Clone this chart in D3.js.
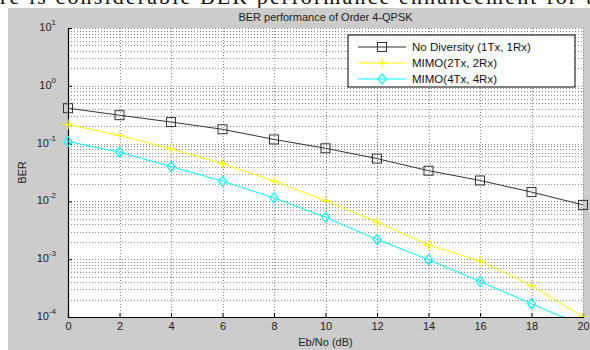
<!DOCTYPE html>
<html>
<head>
<meta charset="utf-8">
<script src="https://cdn.jsdelivr.net/npm/d3@7"></script>
<style>
  body { margin: 0; background: #fff; }
  text { font-family: "Liberation Sans", Arial, sans-serif; }
</style>
</head>
<body>
<div id="chart"></div>
<script>
// Eb/No values (dB)
var ebno = [0, 2, 4, 6, 8, 10, 12, 14, 16, 18, 20];
// BER series
var berSiso = [0.41, 0.31, 0.236, 0.177, 0.118, 0.083, 0.055, 0.034, 0.023, 0.0145, 0.0087];
var berMimo2 = [0.213, 0.139, 0.081, 0.045, 0.0224, 0.0103, 0.0044, 0.00176, 0.00093, 0.00035, 0.0001];
var berMimo4 = [0.109, 0.071, 0.040, 0.0224, 0.0115, 0.0053, 0.0022, 0.00098, 0.00041, 0.00017, 0.00007];
var seriesNames = ["No Diversity (1Tx, 1Rx)", "MIMO(2Tx, 2Rx)", "MIMO(4Tx, 4Rx)"];
var xTicks = [0, 2, 4, 6, 8, 10, 12, 14, 16, 18, 20];
var yExponents = [1, 0, -1, -2, -3, -4];
var titleText = "BER performance of Order 4-QPSK";
var captionText = "re is considerable BER performance enhancement for t";

var W = 590, H = 350;
var margin = { top: 28, right: 7, bottom: 33, left: 68 },
    width = W - margin.left - margin.right,
    height = H - margin.top - margin.bottom;

var svg = d3.select("#chart").append("svg")
    .attr("width", W)
    .attr("height", H);

// piece of paper text cut at the top
svg.append("text")
    .attr("x", 0).attr("y", 4)
    .attr("textLength", 592)
    .style("font-family", "'Liberation Serif', 'DejaVu Serif', serif")
    .style("font-size", "22px")
    .attr("fill", "#111")
    .text(captionText);

// figure background
svg.append("rect")
    .attr("x", 8).attr("y", 8)
    .attr("width", W - 8).attr("height", H - 8)
    .attr("fill", "#cccccc");

var g = svg.append("g")
    .attr("transform", "translate(" + margin.left + "," + margin.top + ")");

var x = d3.scaleLinear().domain([0, 20]).range([0, width]);
var y = d3.scaleLog().domain([1e-4, 10]).range([height, 0]);

g.append("rect")
    .attr("width", width).attr("height", height)
    .attr("fill", "#fff");

// minor + major grid for log axis
var yGrid = [];
for (var e = -4; e < 1; e++) {
    for (var m = 1; m <= 9; m++) yGrid.push(m * Math.pow(10, e));
}
yGrid.push(10);

g.append("g").selectAll("line")
    .data(yGrid)
    .join("line")
    .attr("x1", 0).attr("x2", width)
    .attr("y1", function (d) { return Math.round(y(d)) + 0.5; })
    .attr("y2", function (d) { return Math.round(y(d)) + 0.5; })
    .attr("stroke", "#888")
    .attr("stroke-width", 1)
    .attr("stroke-dasharray", "1,2");

g.append("g").selectAll("line")
    .data(xTicks.slice(1))
    .join("line")
    .attr("x1", function (d) { return Math.round(x(d)) + 0.5; })
    .attr("x2", function (d) { return Math.round(x(d)) + 0.5; })
    .attr("y1", 0).attr("y2", height)
    .attr("stroke", "#888")
    .attr("stroke-width", 1)
    .attr("stroke-dasharray", "1,2");

// axes
var xAxis = d3.axisBottom(x).tickValues(xTicks).tickSize(-4).tickPadding(5);
var gx = g.append("g")
    .attr("transform", "translate(0," + height + ")")
    .call(xAxis);
gx.selectAll("text").style("font-size", "11px").attr("fill", "#222");

var yAxis = d3.axisLeft(y).tickValues(yExponents.map(function (k) { return Math.pow(10, k); }))
    .tickSize(-4).tickFormat("");
var gy = g.append("g").call(yAxis);

[gx, gy].forEach(function (a) {
    a.select(".domain").attr("stroke", "#000").attr("stroke-width", 1.2);
    a.selectAll(".tick line").attr("stroke", "#000");
});

// y tick labels as 10^k
var yl = g.append("g").selectAll("text")
    .data(yExponents)
    .join("text")
    .attr("x", -12)
    .attr("y", function (d) { return y(Math.pow(10, d)) + 3; })
    .attr("text-anchor", "end")
    .style("font-size", "11px")
    .attr("fill", "#222");
yl.append("tspan").text("10");
yl.append("tspan")
    .attr("dy", -6)
    .style("font-size", "8px")
    .text(function (d) { return d; });

// title and axis labels
svg.append("text")
    .attr("x", margin.left + width / 2).attr("y", 21)
    .attr("text-anchor", "middle")
    .style("font-size", "11px")
    .attr("fill", "#222")
    .text(titleText);

svg.append("text")
    .attr("x", margin.left + width / 2).attr("y", 346)
    .attr("text-anchor", "middle")
    .style("font-size", "11px")
    .attr("fill", "#222")
    .text("Eb/No (dB)");

svg.append("text")
    .attr("transform", "translate(26," + (margin.top + height / 2) + ") rotate(-90)")
    .attr("text-anchor", "middle")
    .style("font-size", "11px")
    .attr("fill", "#222")
    .text("BER");

// series
var series = [
    { name: seriesNames[0], values: berSiso, color: "#333333", marker: "square" },
    { name: seriesNames[1], values: berMimo2, color: "#ffff00", marker: "plus" },
    { name: seriesNames[2], values: berMimo4, color: "#00ffff", marker: "diamond" }
];

g.append("clipPath").attr("id", "clip")
    .append("rect").attr("x", -8).attr("y", -8)
    .attr("width", width + 16).attr("height", height + 8);

var line = d3.line()
    .x(function (d, i) { return x(ebno[i]); })
    .y(function (d) { return y(d); });

function drawMarker(sel, type, color) {
    if (type === "square") {
        sel.append("rect")
            .attr("x", -4.5).attr("y", -4.5).attr("width", 9).attr("height", 9)
            .attr("fill", "none").attr("stroke", color).attr("stroke-width", 1);
    } else if (type === "plus") {
        sel.append("path")
            .attr("d", "M-5,0H5M0,-5V5")
            .attr("stroke", color).attr("stroke-width", 1.2);
    } else {
        sel.append("path")
            .attr("d", "M0,-5L4,0L0,5L-4,0Z")
            .attr("fill", "none").attr("stroke", color).attr("stroke-width", 1.2);
    }
}

var plot = g.append("g").attr("clip-path", "url(#clip)");
series.forEach(function (s) {
    plot.append("path")
        .datum(s.values)
        .attr("d", line)
        .attr("fill", "none")
        .attr("stroke", s.color)
        .attr("stroke-width", 1);
    s.values.forEach(function (v, i) {
        if (v < 1e-4) return;
        var mk = plot.append("g")
            .attr("transform", "translate(" + x(ebno[i]) + "," + y(v) + ")");
        drawMarker(mk, s.marker, s.color);
    });
});

// legend
var lg = svg.append("g").attr("transform", "translate(348,35)");
lg.append("rect")
    .attr("width", 227).attr("height", 52)
    .attr("fill", "#fff").attr("stroke", "#000").attr("stroke-width", 1);
series.forEach(function (s, i) {
    var yy = 12 + i * 16;
    lg.append("line")
        .attr("x1", 10).attr("x2", 58).attr("y1", yy).attr("y2", yy)
        .attr("stroke", s.color).attr("stroke-width", 1);
    drawMarker(lg.append("g").attr("transform", "translate(34," + yy + ")"), s.marker, s.color);
    lg.append("text")
        .attr("x", 64).attr("y", yy + 4)
        .style("font-size", "11.5px")
        .attr("fill", "#111")
        .text(s.name);
});
</script>
</body>
</html>
